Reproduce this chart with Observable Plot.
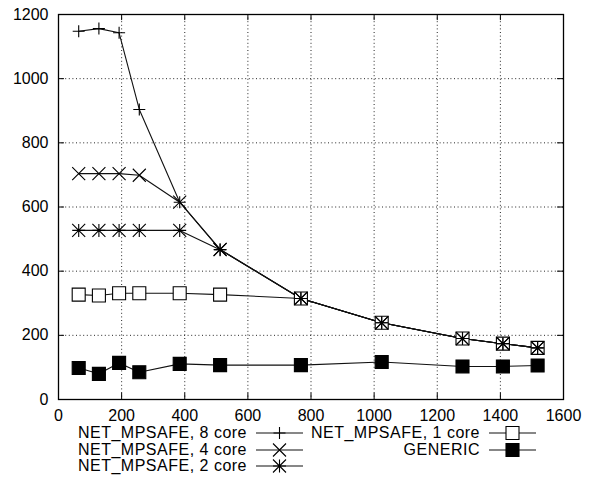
<!DOCTYPE html>
<html>
<head>
<meta charset="utf-8">
<script src="https://cdn.jsdelivr.net/npm/d3@7"></script>
<script src="https://cdn.jsdelivr.net/npm/@observablehq/plot@0.6"></script>
<style>
  html, body { margin: 0; padding: 0; background: #fff; }
  #wrap { position: relative; width: 589px; height: 481px; font-family: "Liberation Sans", Arial, Helvetica, sans-serif; }
  .leg { position: absolute; display: flex; align-items: center; font-size: 16px; color: #000; white-space: nowrap; }
  .leg span { display: inline-block; text-align: right; letter-spacing: 0.5px; }
  .leg svg { margin-left: 9px; }
</style>
</head>
<body>
<div id="wrap"></div>
<script>
// ---- data ----
const sizes   = [64, 128, 192, 256, 384, 512, 768, 1024, 1280, 1408, 1518];
const core8   = [1148, 1156, 1143, 904, 615, 467, 315, 239, 190, 174, 161];
const core4   = [704, 704, 704, 699, 615, 468, 315, 239, 190, 174, 161];
const core2   = [527, 527, 527, 527, 527, 467, 315, 239, 190, 174, 161];
const core1   = [327, 324, 331, 331, 331, 327, 315, 239, 190, 174, 161];
const generic = [98, 80, 114, 85, 111, 107, 107, 117, 103, 103, 106];
const seriesNames = ["NET_MPSAFE, 8 core", "NET_MPSAFE, 4 core", "NET_MPSAFE, 2 core", "NET_MPSAFE, 1 core", "GENERIC"];
const xTicks = [0, 200, 400, 600, 800, 1000, 1200, 1400, 1600];
const yTicks = [0, 200, 400, 600, 800, 1000, 1200];

// ---- symbols (gnuplot point types) ----
const half = size => Math.sqrt(size / Math.PI);
const symPlus = { draw(c, size) { const h = half(size); c.moveTo(-h, 0); c.lineTo(h, 0); c.moveTo(0, -h); c.lineTo(0, h); } };
const symCross = { draw(c, size) { const h = half(size); c.moveTo(-h, -h); c.lineTo(h, h); c.moveTo(-h, h); c.lineTo(h, -h); } };
const symStar = { draw(c, size) { const h = half(size); c.moveTo(-h, 0); c.lineTo(h, 0); c.moveTo(0, -h); c.lineTo(0, h); c.moveTo(-h, -h); c.lineTo(h, h); c.moveTo(-h, h); c.lineTo(h, -h); } };
const symSquare = { draw(c, size) { const h = half(size); c.rect(-h, -h, 2 * h, 2 * h); } };

const styles = [
  { sym: symPlus, fill: "none", r: 6 },
  { sym: symCross, fill: "none", r: 6.5 },
  { sym: symStar, fill: "none", r: 6.5 },
  { sym: symSquare, fill: "white", r: 6.5 },
  { sym: symSquare, fill: "black", r: 6.5 }
];
const allSeries = [core8, core4, core2, core1, generic];
const tables = allSeries.map((vals, i) => sizes.map((s, j) => ({ x: s, y: vals[j], series: seriesNames[i] })));

const marks = [
  // dotted grid
  Plot.ruleX(xTicks.slice(1, -1), { stroke: "#000", strokeWidth: 1, strokeDasharray: "1,2.6", strokeOpacity: 0.85 }),
  Plot.ruleY(yTicks.slice(1, -1), { stroke: "#000", strokeWidth: 1, strokeDasharray: "1,2.6", strokeOpacity: 0.85 }),
  // inward tick marks (mirrored)
  Plot.ruleX(xTicks, { y1: 0, y2: 19, stroke: "#000" }),
  Plot.ruleX(xTicks, { y1: 1200, y2: 1181, stroke: "#000" }),
  Plot.ruleY(yTicks, { x1: 0, x2: 19, stroke: "#000" }),
  Plot.ruleY(yTicks, { x1: 1600, x2: 1581, stroke: "#000" }),
  Plot.frame({ stroke: "#000", strokeWidth: 1.3 })
];
tables.forEach((t, i) => {
  marks.push(Plot.line(t, { x: "x", y: "y", stroke: "#111", strokeWidth: 1.1 }));
});
// open squares first (white interior), then the line-type symbols on top, then filled squares
[3, 0, 1, 2, 4].forEach(i => {
  const st = styles[i];
  marks.push(Plot.dot(tables[i], { x: "x", y: "y", symbol: st.sym, r: st.r, stroke: "#000", strokeWidth: 1.1, fill: st.fill }));
});

const chart = Plot.plot({
  width: 589,
  height: 425,
  marginLeft: 58,
  marginRight: 26,
  marginTop: 14,
  marginBottom: 26,
  style: { fontFamily: "'Liberation Sans', Arial, Helvetica, sans-serif", fontSize: "16px", color: "#000", background: "#fff" },
  x: { domain: [0, 1600], ticks: xTicks, tickSize: 0, tickPadding: 10, label: null, tickFormat: d => String(d) },
  y: { domain: [0, 1200], ticks: yTicks, tickSize: 0, tickPadding: 10, label: null, tickFormat: d => String(d) },
  marks
});
const wrap = document.getElementById("wrap");
wrap.appendChild(chart);

// ---- legend below the plot ----
const legendPos = [
  { right: 589 - 247, top: 433 },
  { right: 589 - 247, top: 449.5 },
  { right: 589 - 247, top: 466 },
  { right: 589 - 480, top: 433 },
  { right: 589 - 480, top: 449.5 }
];
seriesNames.forEach((name, i) => {
  const st = styles[i];
  const div = document.createElement("div");
  div.className = "leg";
  const lp = legendPos[i];
  const sampleW = 47;
  div.style.right = (lp.right - 9 - sampleW) + "px";
  div.style.top = (lp.top - 9) + "px";
  div.style.height = "18px";
  const span = document.createElement("span");
  span.textContent = name;
  div.appendChild(span);
  const svg = d3.create("svg").attr("width", sampleW).attr("height", 18);
  svg.append("line").attr("x1", 0).attr("x2", sampleW).attr("y1", 9).attr("y2", 9).attr("stroke", "#111").attr("stroke-width", 1.1);
  svg.append("path")
    .attr("transform", `translate(${sampleW / 2},9)`)
    .attr("d", d3.symbol(st.sym, Math.PI * st.r * st.r)())
    .attr("stroke", "#000").attr("stroke-width", 1.1).attr("fill", st.fill);
  div.appendChild(svg.node());
  wrap.appendChild(div);
});
</script>
</body>
</html>
